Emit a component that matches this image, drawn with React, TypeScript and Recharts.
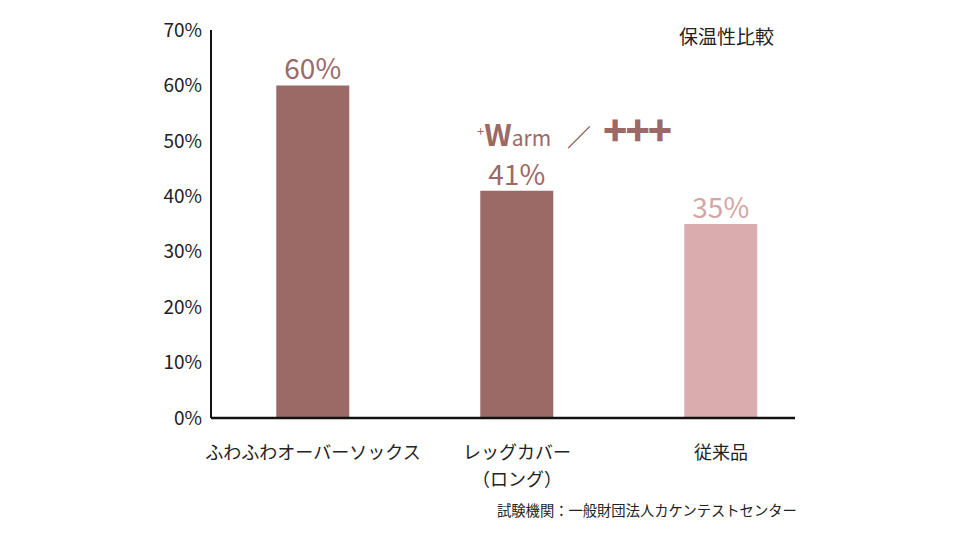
import { BarChart, Bar, XAxis, YAxis, LabelList, Cell } from 'recharts';

const categories = ['ふわふわオーバーソックス', 'レッグカバー\n（ロング）', '従来品'];
const values = [60, 41, 35];
const barColors = ['#9b6966', '#9b6966', '#d9adad'];
const labelColors = ['#9b6966', '#9b6966', '#d6a4a4'];
const yTicks = [0, 10, 20, 30, 40, 50, 60, 70];

const data = categories.map((name, i) => ({ name, value: values[i] }));

const FONT = '"Noto Sans CJK JP", "Noto Sans", sans-serif';

const CategoryTick = (props: any) => {
  const { x, y, payload } = props;
  const lines = String(payload.value).split('\n');
  return (
    <text x={x} y={y} textAnchor="middle" fill="#222" fontSize={18} fontFamily={FONT}>
      {lines.map((line: string, i: number) => (
        <tspan key={i} x={x} dy={i === 0 ? 41 : 27}>
          {line}
        </tspan>
      ))}
    </text>
  );
};

const ValueLabel = (props: any) => {
  const { x, y, width, value, index } = props;
  return (
    <text
      x={x + width / 2}
      y={y - 6}
      textAnchor="middle"
      fill={labelColors[index]}
      fontSize={28}
      fontFamily={FONT}
    >
      {value}%
    </text>
  );
};

const App = () => {
  return (
    <div style={{ position: 'relative', width: 960, height: 540, margin: -8, background: '#fff' }}>
      <BarChart
        width={960}
        height={540}
        data={data}
        margin={{ top: 30, right: 165, left: 151, bottom: 62 }}
        barCategoryGap="32%"
      >
        <XAxis
          dataKey="name"
          interval={0}
          tickLine={false}
          tickSize={0}
          tickMargin={0}
          axisLine={{ stroke: '#111', strokeWidth: 2.5 }}
          padding={{ left: 0, right: -28 }}
          tick={<CategoryTick />}
          height={60}
        />
        <YAxis
          width={60}
          domain={[0, 70]}
          ticks={yTicks}
          tickLine={false}
          tickSize={7}
          tickMargin={2}
          axisLine={{ stroke: '#111', strokeWidth: 2 }}
          tickFormatter={(v) => `${v}%`}
          tick={{ fill: '#222', fontSize: 19, fontFamily: FONT }}
        />
        <Bar dataKey="value" isAnimationActive={false}>
          {data.map((_, i) => (
            <Cell key={i} fill={barColors[i]} />
          ))}
          <LabelList dataKey="value" content={<ValueLabel />} />
        </Bar>
      </BarChart>

      <div
        style={{
          position: 'absolute',
          left: 679,
          top: 22,
          fontSize: 19,
          fontFamily: FONT,
          color: '#222',
        }}
      >
        保温性比較
      </div>

      <div
        style={{
          position: 'absolute',
          left: 477,
          top: 109,
          fontFamily: FONT,
          color: '#9b6966',
          whiteSpace: 'nowrap',
          display: 'flex',
          alignItems: 'baseline',
        }}
      >
        <span style={{ fontSize: 13, position: 'relative', top: -10 }}>+</span>
        <span style={{ fontSize: 30, fontWeight: 700, lineHeight: 1 }}>W</span>
        <span style={{ fontSize: 21 }}>arm</span>
        <span style={{ fontSize: 24, marginLeft: 16, marginRight: 12, color: '#7a4a48' }}>／</span>
        <span style={{ fontSize: 40, fontWeight: 900, letterSpacing: -2, lineHeight: 1 }}>+++</span>
      </div>

      <div
        style={{
          position: 'absolute',
          left: 497,
          top: 499,
          fontSize: 14.3,
          fontFamily: FONT,
          color: '#222',
          whiteSpace: 'nowrap',
        }}
      >
        試験機関：一般財団法人カケンテストセンター
      </div>
    </div>
  );
};

export default App;
